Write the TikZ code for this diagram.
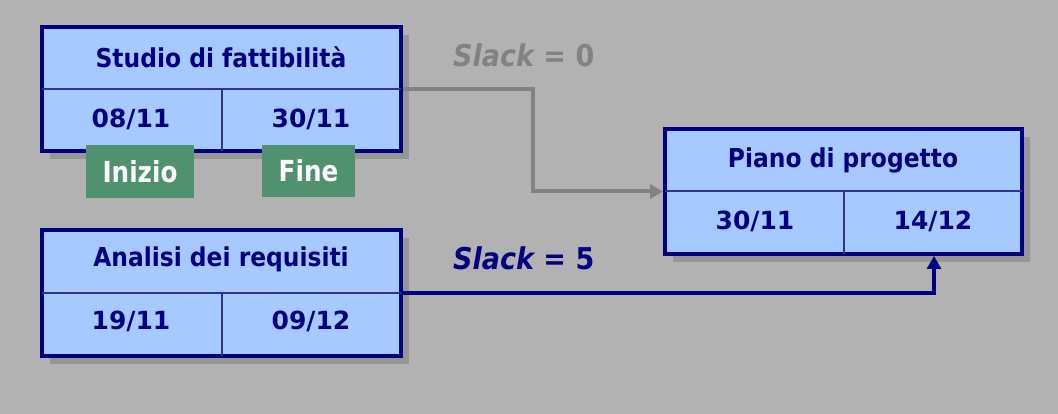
\documentclass[tikz,border=0pt]{standalone}
\usepackage{fontspec}
\setmainfont{DejaVu Sans}
\newfontfamily\narrowfont{DejaVu Sans}[FakeStretch=0.9]
\newfontfamily\narrowerfont{DejaVu Sans}[FakeStretch=0.85]
\usetikzlibrary{shadows,arrows.meta}
\definecolor{bg}{RGB}{178,178,178}
\definecolor{boxfill}{RGB}{166,202,255}
\definecolor{navy}{RGB}{0,0,128}
\definecolor{divline}{RGB}{50,50,150}
\definecolor{shadowgray}{RGB}{150,150,150}
\definecolor{tagfill}{RGB}{80,146,110}
\definecolor{grayline}{RGB}{130,130,130}
\tikzset{
  taskbox/.style={draw=navy, line width=4pt, fill=boxfill, minimum width=359pt, inner sep=0pt,
    drop shadow={shadow xshift=8pt, shadow yshift=-8pt, fill=shadowgray, opacity=1}},
  divider/.style={draw=divline, line width=2pt},
  titletext/.style={text=navy, font=\narrowfont\bfseries\fontsize{26}{30}\selectfont, inner sep=0pt},
  datetext/.style={text=navy, font=\bfseries\fontsize{25}{29}\selectfont, inner sep=0pt},
  tagbox/.style={fill=tagfill, text=white, font=\narrowerfont\bfseries\fontsize{29}{33}\selectfont, inner sep=0pt},
  slacktext/.style={font=\narrowfont\bfseries\fontsize{30}{34}\selectfont, inner sep=0pt, anchor=west},
  grayconn/.style={draw=grayline, line width=4pt, -{Triangle[length=13pt,width=14pt]}},
  navyconn/.style={draw=navy, line width=4pt, -{Triangle[length=13pt,width=14pt]}}
}
\begin{document}
\begin{tikzpicture}[x=1pt,y=-1pt]
\fill[bg] (0,0) rectangle (1058,414);
\useasboundingbox (0,0) rectangle (1058,414);
% boxes
\node[taskbox, minimum height=124pt] (b1) at (221.5,89) {};
\node[taskbox, minimum height=126pt] (b2) at (221.5,293) {};
\node[taskbox, minimum height=125pt, minimum width=357pt] (b3) at (843.5,191.5) {};
% dividers
\draw[divider] ([xshift=2pt]b1.west) -- ([xshift=-2pt]b1.east);
\draw[divider] (b1.center) -- ([yshift=2pt]b1.south);
\draw[divider] ([xshift=2pt]b2.west) -- ([xshift=-2pt]b2.east);
\draw[divider] (b2.center) -- ([yshift=2pt]b2.south);
\draw[divider] ([xshift=2pt]b3.west) -- ([xshift=-2pt]b3.east);
\draw[divider] (b3.center) -- ([yshift=2pt]b3.south);
% texts
\node[titletext] (t1) at (221,57) {Studio di fattibilità};
\node[datetext] (s1) at (131,119) {08/11};
\node[datetext] (e1) at (311,119) {30/11};
\node[titletext] (t2) at (221,259) {Analisi dei requisiti};
\node[datetext] (s2) at (131,321) {19/11};
\node[datetext] (e2) at (311,321) {09/12};
\node[titletext] (t3) at (843,160) {Piano di progetto};
\node[datetext] (s3) at (755,221) {30/11};
\node[datetext] (e3) at (933,221) {14/12};
% tags
\node[tagbox, minimum width=108pt, minimum height=53pt] (tin) at (140,171.5) {Inizio};
\node[tagbox, minimum width=93pt, minimum height=52pt] (tfi) at (308.5,171) {Fine};
% slack labels
\node[slacktext, text=grayline] (sl0) at (453,55) {\itshape Slack\upshape{} = 0};
\node[slacktext, text=navy] (sl5) at (453,258) {\itshape Slack\upshape{} = 5};
% connectors
\coordinate (gbend) at (533,89);
\coordinate (nend) at (934,256);
\draw[grayconn] (b1.east) -- (gbend) |- (b3.west);
\draw[navyconn] (b2.east) -| (nend);
\end{tikzpicture}
\end{document}
